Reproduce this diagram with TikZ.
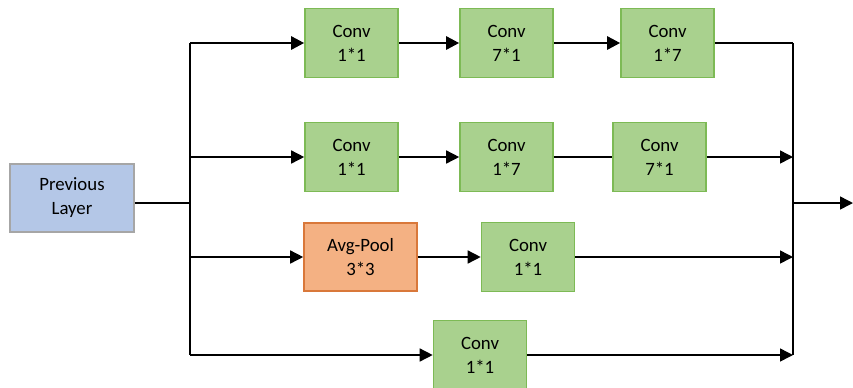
\documentclass[tikz,border=0pt]{standalone}
\usepackage{fontspec}
\setmainfont{Carlito}
\usetikzlibrary{arrows.meta}

\definecolor{convfill}{HTML}{A9D18E}
\definecolor{convline}{HTML}{7DBA55}
\definecolor{poolfill}{HTML}{F4B183}
\definecolor{poolline}{HTML}{D9783A}
\definecolor{prevfill}{HTML}{B4C7E7}
\definecolor{prevline}{HTML}{A6A6A6}

\begin{document}
\begin{tikzpicture}[x=0.5pt,y=-0.5pt,
	block/.style={line width=0.8pt, align=center, inner sep=0pt, text=black,
		font=\fontsize{9.4}{12}\selectfont},
	conv/.style={block, draw=convline, fill=convfill, minimum width=46.5pt, minimum height=34.5pt},
	pool/.style={block, draw=poolline, fill=poolfill, minimum width=56.5pt, minimum height=34pt},
	prev/.style={block, draw=prevline, fill=prevfill, minimum width=62pt, minimum height=34pt},
	link/.style={line width=0.75pt, -{Triangle[length=6.5pt,width=6.5pt]}},
	wire/.style={line width=0.75pt},
	fat/.style={line width=1.3pt}
]
\useasboundingbox (0,0) rectangle (853,387);

\node[prev] (prev) at (72,198) {Previous\\Layer};

% four branches
\node[conv] (a1) at (351.5,43) {Conv\\1*1};
\node[conv] (a2) at (506.5,43) {Conv\\7*1};
\node[conv] (a3) at (667.5,43) {Conv\\1*7};

\node[conv] (b1) at (351.5,157) {Conv\\1*1};
\node[conv] (b2) at (506.5,157) {Conv\\1*7};
\node[conv] (b3) at (659.5,157) {Conv\\7*1};

\node[pool] (p1) at (360.5,257) {Avg-Pool\\3*3};
\node[conv] (c1) at (528,257) {Conv\\1*1};

\node[conv] (d1) at (480,355) {Conv\\1*1};

% split and merge buses
\coordinate (split) at (190,203);
\coordinate (merge) at (793,203);
\coordinate (out) at (853,203);
\foreach \n/\y in {a/43,b/157,c/257,d/355}{
	\coordinate (s\n) at (190,\y);
	\coordinate (m\n) at (793,\y);
}
\draw[wire] (prev.east |- split) -- (split);
\draw[wire] (sa) -- (sd);
\draw[wire] (ma) -- (md);

\draw[link,fat] (sa) -- (a1.west);
\draw[link,fat] (a1.east) -- (a2.west);
\draw[link,fat] (a2.east) -- (a3.west);
\draw[wire] (a3.east) -- (ma);

\draw[link] (sb) -- (b1.west);
\draw[link] (b1.east) -- (b2.west);
\draw[wire] (b2.east) -- (b3.west);
\draw[link] (b3.east) -- (mb);

\draw[link] (sc) -- (p1.west);
\draw[link] (p1.east) -- (c1.west);
\draw[link] (c1.east) -- (mc);

\draw[link] (sd) -- (d1.west);
\draw[link] (d1.east) -- (md);

\draw[link] (merge) -- (out);
\end{tikzpicture}
\end{document}
